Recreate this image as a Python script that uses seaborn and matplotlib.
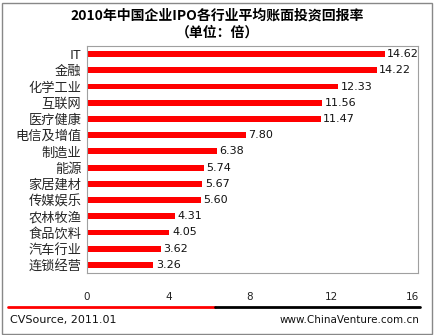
import matplotlib
matplotlib.use("Agg")
import matplotlib.pyplot as plt
import seaborn as sns
import pandas as pd
from matplotlib.lines import Line2D
from matplotlib.patches import Rectangle

categories = ["IT", "金融", "化学工业", "互联网", "医疗健康", "电信及增值", "制造业",
              "能源", "家居建材", "传媒娱乐", "农林牧渔", "食品饮料", "汽车行业", "连锁经营"]
values = [14.62, 14.22, 12.33, 11.56, 11.47, 7.80, 6.38, 5.74, 5.67, 5.60, 4.31, 4.05, 3.62, 3.26]
xticks = [0, 4, 8, 12, 16]
title = "2010年中国企业IPO各行业平均账面投资回报率\n（单位：倍）"
source_left = "CVSource, 2011.01"
source_right = "www.ChinaVenture.com.cn"

sns.set_style("white")
plt.rcParams['font.family'] = ['Noto Sans CJK SC', 'DejaVu Sans']

df = pd.DataFrame({"cat": categories, "val": values})

W, H = 435, 335
fig = plt.figure(figsize=(W / 100, H / 100), dpi=100)
ax = fig.add_axes([87 / W, 1 - 273 / H, (418 - 87) / W, (273 - 46) / H])

sns.barplot(data=df, x="val", y="cat", orient="h", color="#ff0000", width=0.36,
            saturation=1, linewidth=0, ax=ax)

for i, v in enumerate(values):
    ax.text(v + 0.12, i, f"{v:.2f}", va="center", ha="left", fontsize=8,
            color="#111111", family="DejaVu Sans")

ax.set_xlim(0, 16.25)
ax.set_ylim(13.5, -0.5)
ax.set_xticks(xticks)
ax.set_xticklabels([str(t) for t in xticks], fontsize=7.5, color="#222222", family="DejaVu Sans")
ax.tick_params(axis="x", length=0, pad=14)
ax.tick_params(axis="y", length=0, pad=4, labelsize=9.5)
ax.set_xlabel("")
ax.set_ylabel("")
for s in ax.spines.values():
    s.set_color("#a0a0a0")
    s.set_linewidth(0.8)

fig.text(0.5, 1 - 24 / H, title, ha="center", va="center", fontsize=10,
         fontweight="bold", linespacing=1.3, color="#000000")

fig.add_artist(Line2D([8 / W, 215 / W], [1 - 307 / H] * 2, color="#ff0000", lw=2))
fig.add_artist(Line2D([215 / W, 420 / W], [1 - 307 / H] * 2, color="#000000", lw=2))
fig.text(10 / W, 1 - 320 / H, source_left, ha="left", va="center", fontsize=8,
         family="DejaVu Sans", color="#111111")
fig.text(419 / W, 1 - 320 / H, source_right, ha="right", va="center", fontsize=7.5,
         family="DejaVu Sans", color="#111111")

fig.add_artist(Rectangle((2.5 / W, 1.5 / H), 430 / W, 331 / H, fill=False,
                         edgecolor="#888888", lw=1, transform=fig.transFigure))

fig.savefig("out.png", dpi=100)
